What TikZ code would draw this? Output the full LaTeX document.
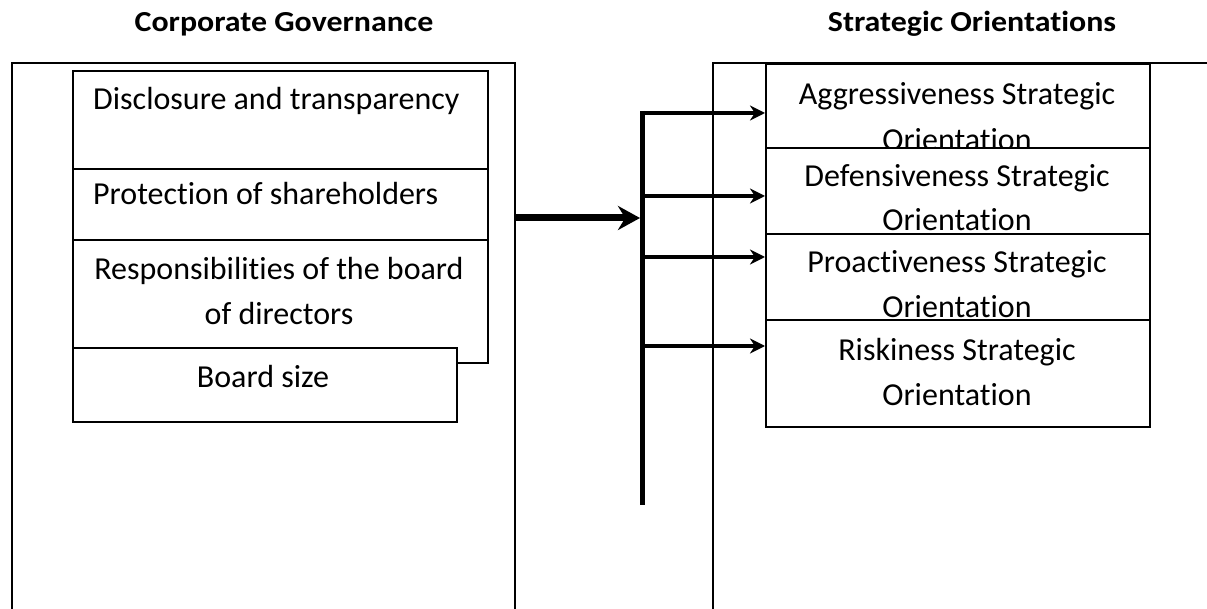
\documentclass[tikz,border=0pt]{standalone}
\usepackage{graphicx}
\usepackage{fontspec}
\setmainfont{Carlito}[Ligatures=NoCommon]
\usetikzlibrary{arrows.meta}
\newcommand{\widehead}[1]{\scalebox{1.1}[1]{#1}}
\begin{document}
\begin{tikzpicture}[x=1pt,y=-1pt,
  frame/.style={line width=2pt},
  box/.style={draw, line width=2pt, fill=white, rectangle, inner sep=0pt, anchor=north west},
  lbl/.style={anchor=base, inner sep=0pt, font=\fontsize{32}{38}\selectfont},
  lbll/.style={lbl, anchor=base west},
  heading/.style={anchor=base, inner sep=0pt, font=\fontsize{29}{34}\selectfont\bfseries},
  feed/.style={line width=4pt, -{Stealth[length=15pt,width=15pt]}},
  mainarrow/.style={line width=7pt, -{Stealth[length=22pt,width=24pt]}},
  bar/.style={line width=5pt}]
\useasboundingbox (0,0) rectangle (1207,609);

% headings
\node[heading] (cgT) at (284,32) {\widehead{Corporate Governance}};
\node[heading] (soT) at (972,32) {\widehead{Strategic Orientations}};

% open frames
\draw[frame] (12,620) -- (12,63) -- (515,63) -- (515,620);
\draw[frame] (713,620) -- (713,63) -- (1210,63);

% corporate governance items
\node[box, minimum width=415, minimum height=98] (d1) at (72,70) {};
\node[lbll] (d1t) at (93,110) {Disclosure and transparency};
\node[box, minimum width=415, minimum height=71] (d2) at (72,168) {};
\node[lbll] (d2t) at (93,205) {Protection of shareholders};
\node[box, minimum width=415, minimum height=123] (d3) at (72,239) {};
\node[lbl] (d3a) at (279,280) {Responsibilities of the board};
\node[lbl] (d3b) at (279,325) {of directors};
\node[box, minimum width=384, minimum height=74] (d4) at (72,347) {};
\node[lbl] (d4t) at (263,387) {Board size};

% strategic orientations
\node[box, minimum width=384, minimum height=84] (s1) at (765,63) {};
\node[lbl] (s1a) at (957,105) {Aggressiveness Strategic};
\node[lbl] (s1b) at (957,151) {Orientation};
\node[box, minimum width=384, minimum height=86] (s2) at (765,147) {};
\node[lbl] (s2a) at (957,187) {Defensiveness Strategic};
\node[lbl] (s2b) at (957,231) {Orientation};
\node[box, minimum width=384, minimum height=86] (s3) at (765,233) {};
\node[lbl] (s3a) at (957,273) {Proactiveness Strategic};
\node[lbl] (s3b) at (957,318) {Orientation};
\node[box, minimum width=384, minimum height=107] (s4) at (765,319) {};
\node[lbl] (s4a) at (957,360) {Riskiness Strategic};
\node[lbl] (s4b) at (957,405) {Orientation};

% distribution bar and arrows
\coordinate (barTop) at (642,111);
\coordinate (barBot) at (642,505);
\draw[bar] (barTop) -- (barBot);
\coordinate (cgE) at (515,218);
\draw[mainarrow] (cgE) -- ([xshift=-2pt]cgE -| barTop);
\coordinate (j1) at (640,113);
\coordinate (j2) at (640,196);
\coordinate (j3) at (640,257);
\coordinate (j4) at (640,346);
\draw[feed] (j1) -- (j1 -| s1.west);
\draw[feed] (j2) -- (j2 -| s2.west);
\draw[feed] (j3) -- (j3 -| s3.west);
\draw[feed] (j4) -- (j4 -| s4.west);
\end{tikzpicture}
\end{document}
